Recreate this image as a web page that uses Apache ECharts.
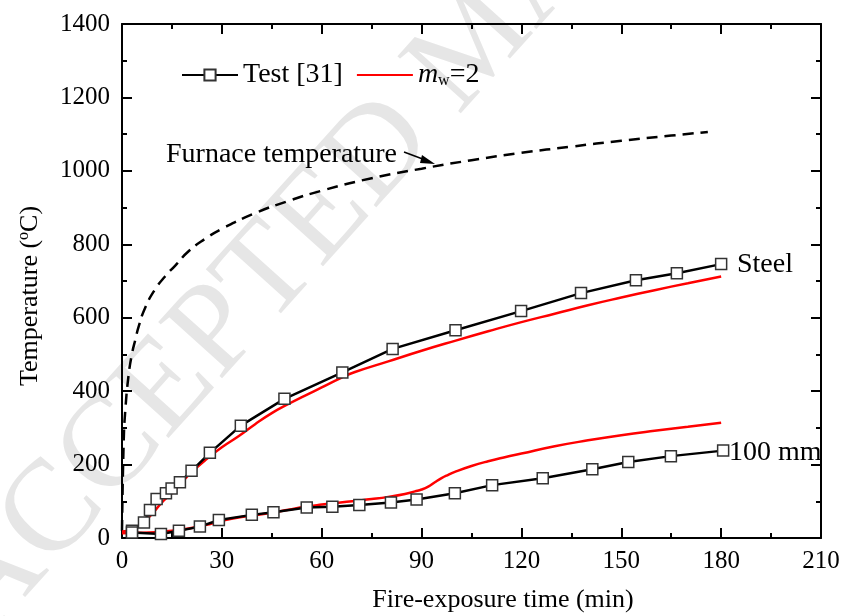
<!DOCTYPE html>
<html>
<head>
<meta charset="utf-8">
<script src="https://cdn.jsdelivr.net/npm/echarts@6/dist/echarts.min.js"></script>
<style>html,body{margin:0;padding:0;background:#fff}#c{width:846px;height:616px}</style>
</head>
<body>
<div id="c"></div>
<script>
// ---- data (x = min, y = °C) ----
const testSteel = [[3,20],[6.6,42],[8.4,76],[10.4,106],[13.2,122],[14.9,135],[17.4,152],[20.9,183],[26.4,232],[35.7,306],[48.8,379],[66.2,451],[81.3,515],[100.2,566],[119.9,618],[137.9,667],[154.4,702],[166.7,721],[180,746]];
const test100 = [[3,15],[11.7,11],[17.1,20],[23.4,31],[29.1,49],[39,63],[45.5,70],[55.5,83],[63.2,85],[71.3,90],[80.8,97],[88.5,105],[100,122],[111.2,144],[126.4,163],[141.3,187],[152.1,207],[164.9,223],[180.6,238]];
const modelSteel = [[0,18],[3,22],[6,40],[9,65],[12,97],[15,122],[18,152],[21,180],[25,212],[30,247],[35,277],[40,310],[45,340],[50,365],[55,388],[60,410],[66,437],[70,452],[80,481],[90,510],[100,537],[110,563],[120,588],[130,611],[140,634],[150,655],[160,675],[170,694],[180,712]];
const model100 = [[0,13],[5,14],[10,16],[15,20],[20,26],[25,35],[30,47],[35,56],[40,62],[45,69],[50,77],[55,85],[60,91],[65,96],[70,101],[75,106],[80,112],[85,120],[88,127],[90,132],[92,140],[94,152],[96,163],[98,172],[100,180],[105,196],[110,209],[115,220],[120,230],[130,250],[140,266],[150,280],[160,292],[170,303],[180,314]];
const furnace = [[0,20],[0.5,260],[1,349],[2,445],[3,502],[4,540],[5,576],[7,628],[10,678],[13,713],[16,742],[20,781],[25,815],[30,842],[40,885],[50,918],[60,946],[75,980],[90,1006],[105,1029],[120,1049],[135,1066],[150,1082],[165,1096],[176,1106]];
const xTicks = {min:0, max:210, interval:30};
const yTicks = {min:0, max:1400, interval:200};
const labels = {legendTest:'Test [31]', legendModel:'mw=2', furnace:'Furnace temperature', steel:'Steel', mm:'100 mm', xName:'Fire-exposure time (min)', watermark:'ACCEPTED MANUSCRIPT'};

const FONT = 'Liberation Serif';
const chart = echarts.init(document.getElementById('c'), null, {renderer:'canvas'});
const axisCommon = {
  type:'value', splitLine:{show:false},
  axisLine:{show:true, onZero:false, lineStyle:{color:'#000', width:2}},
  axisTick:{show:true, inside:true, length:10, lineStyle:{color:'#000', width:2}},
  minorTick:{show:true, splitNumber:2, length:5, lineStyle:{color:'#000', width:2}},
};
const lbl = {color:'#000', fontFamily:FONT, fontSize:25, formatter:function(v){return String(v);}};
const testStyle = {type:'line', smooth:false, symbol:'rect', symbolSize:11, showSymbol:true,
  lineStyle:{color:'#000', width:2.5}, itemStyle:{color:'#fff', borderColor:'#333', borderWidth:1.5}, z:4};
const modelStyle = {type:'line', smooth:true, symbol:'none', lineStyle:{color:'#ff0000', width:2.5}, itemStyle:{color:'#ff0000'}, z:3};

chart.setOption({
  animation:false,
  backgroundColor:'#fff',
  grid:{left:122, right:25, top:24, bottom:78, containLabel:false},
  xAxis:[
    Object.assign({}, axisCommon, xTicks, {position:'bottom', axisLabel:Object.assign({margin:11}, lbl)}),
    Object.assign({}, axisCommon, xTicks, {position:'top', axisLabel:{show:false}})
  ],
  yAxis:[
    Object.assign({}, axisCommon, yTicks, {position:'left', axisLabel:Object.assign({margin:12}, lbl)}),
    Object.assign({}, axisCommon, yTicks, {position:'right', axisLabel:{show:false}})
  ],
  legend:{
    left:176, top:56, itemWidth:56, itemHeight:14, itemGap:13,
    data:[{name:labels.legendTest}, {name:labels.legendModel, itemStyle:{opacity:0}}],
    formatter:function(n){ return n===labels.legendModel ? '{i|m}{s|w}{n|=2}' : '{n|'+n+'}'; },
    textStyle:{color:'#000', fontFamily:FONT, fontSize:28,
      rich:{n:{fontFamily:FONT, fontSize:28, color:'#000'},
            i:{fontFamily:FONT, fontSize:28, fontStyle:'italic', color:'#000'},
            s:{fontFamily:FONT, fontSize:16, color:'#000', padding:[12,0,0,0]}}}
  },
  series:[
    Object.assign({name:labels.legendTest, data:testSteel}, testStyle),
    Object.assign({name:labels.legendTest, data:test100}, testStyle),
    Object.assign({name:labels.legendModel, data:modelSteel}, modelStyle),
    Object.assign({name:labels.legendModel, data:model100}, modelStyle),
    {name:'Furnace', type:'line', smooth:true, symbol:'none', data:furnace,
     lineStyle:{color:'#000', width:2.5, type:[11,7]}, z:2}
  ],
  graphic:[
    {type:'text', silent:true, z:-10, x:10, y:660, rotation:48*Math.PI/180,
     style:{text:labels.watermark, fontFamily:FONT, fontSize:130, fill:'#e6e6e6', verticalAlign:'bottom'}},
    {type:'text', x:30, y:296, rotation:Math.PI/2,
     style:{text:'{a|Temperature (}{s|o}{a|C)}', align:'center', verticalAlign:'middle',
       rich:{a:{fontFamily:FONT, fontSize:26, fill:'#000'}, s:{fontFamily:FONT, fontSize:16, fill:'#000', padding:[0,0,13,0]}}}},
    {type:'text', x:503, y:600, style:{text:labels.xName, fontFamily:FONT, fontSize:26, fill:'#000', align:'center', verticalAlign:'middle'}},
    {type:'text', x:166, y:155, style:{text:labels.furnace, fontFamily:FONT, fontSize:28, fill:'#000', align:'left', verticalAlign:'middle'}},
    {type:'text', x:737, y:265, style:{text:labels.steel, fontFamily:FONT, fontSize:28, fill:'#000', align:'left', verticalAlign:'middle'}},
    {type:'text', x:729, y:453, style:{text:labels.mm, fontFamily:FONT, fontSize:28, fill:'#000', align:'left', verticalAlign:'middle'}},
    {type:'line', shape:{x1:404, y1:152, x2:428, y2:161}, style:{stroke:'#000', lineWidth:1.5}},
    {type:'polygon', shape:{points:[[435,164],[422,155],[420,163]]}, style:{fill:'#000'}}
  ]
});
</script>
</body>
</html>
